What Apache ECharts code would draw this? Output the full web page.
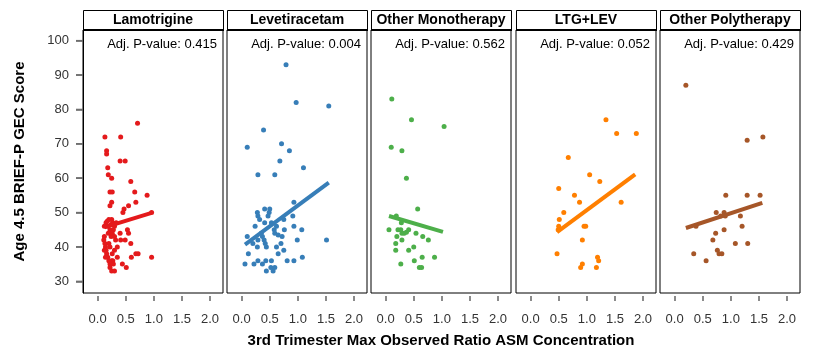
<!DOCTYPE html>
<html>
<head>
<meta charset="utf-8">
<script src="https://cdn.jsdelivr.net/npm/echarts@6/dist/echarts.min.js"></script>
<style>html,body{margin:0;padding:0;background:#fff;}#c{width:816px;height:360px;}</style>
</head>
<body>
<div id="c"></div>
<script>
const panelNames = ['Lamotrigine', 'Levetiracetam', 'Other Monotherapy', 'LTG+LEV', 'Other Polytherapy'];
const pValues = ['0.415', '0.004', '0.562', '0.052', '0.429'];
const xTicks = [0, 0.5, 1.0, 1.5, 2.0];
const yTicks = [30, 40, 50, 60, 70, 80, 90, 100];

const ltgPoints = [[0.71,76],[0.13,72],[0.41,72],[0.16,68],[0.16,67],[0.40,65],[0.49,65],[0.18,63],[0.19,61],[0.25,60],[0.59,59],[0.22,56],[0.26,56],[0.66,56],[0.88,55],[0.25,53],[0.22,52],[0.68,53],[0.55,52],[0.47,51],[0.45,50],[0.96,50],
[0.15,47],[0.20,48],[0.25,48],[0.27,47],[0.30,46],[0.18,46],[0.22,45],[0.12,46],[0.28,45],[0.33,47],[0.24,46.5],[0.17,47.5],
[0.53,45],[0.55,44],[0.40,44],[0.12,43],[0.11,42],[0.13,41],[0.24,43],[0.32,42],[0.41,42],[0.49,42],[0.59,41],[0.20,41],[0.22,40],[0.14,40],[0.12,39],[0.16,38],[0.26,38],[0.18,37],[0.35,37],[0.60,37],[0.68,38],[0.72,38],[0.96,37],[0.25,36],[0.22,35],[0.44,35],[0.51,34],[0.22,34],[0.25,33],[0.30,33],[0.27,36],[0.15,39],[0.30,39],[0.35,40],[0.19,44],[0.26,44],[0.30,43],[0.20,36],[0.28,35],[0.14,37]];
const levPoints = [[0.79,93],[0.97,82],[1.55,81],[0.39,74],[0.10,69],[0.71,70],[0.85,68],[0.68,65],[1.10,63],[0.29,61],[0.59,61],[0.93,53],
[0.41,51],[0.50,51],[0.28,50],[0.29,49],[0.32,48],[0.49,50],[0.47,49],[0.91,49],[0.24,46],[0.41,47],[0.53,47],[0.62,46],[0.75,48],[0.93,46],[1.07,45],[0.76,45],[0.59,44],[0.65,43.5],[0.58,45],
[0.10,43],[0.37,43],[0.29,42],[0.40,42],[0.42,41],[0.44,40],[0.72,43],[0.70,41],[0.62,40],[0.99,42],[1.51,42],[0.12,38],[0.28,40],[0.65,38],[0.75,39],[1.08,37],[0.06,35],[0.22,35],[0.29,36],[0.37,35],[0.43,36],[0.44,33],[0.53,36],[0.52,34],[0.56,33],[0.59,34],[0.81,36],[0.93,36],[0.35,44],[0.20,41]];
const monoPoints = [[0.11,83],[0.46,77],[1.04,75],[0.10,69],[0.29,68],[0.37,60],[0.57,51],[0.19,49],[0.06,45],[0.22,45],[0.27,45],[0.29,44],[0.33,44],[0.37,44.3],[0.41,45],[0.28,47],[0.54,44],[0.66,43],[0.76,42],[0.20,43],[0.29,42],[0.18,41],[0.18,39],[0.41,39],[0.50,40],[0.27,35],[0.51,36],[0.65,37],[0.87,37],[0.60,34],[0.64,34]];
const ltglevPoints = [[1.34,77],[1.53,73],[1.88,73],[0.67,66],[1.05,61],[1.23,59],[0.50,57],[0.78,55],[0.87,53],[1.61,53],[0.59,50],[0.51,48],[0.50,46],[0.49,45],[0.95,46],[0.98,46],[0.92,42],[0.47,38],[1.19,37],[1.21,36],[0.92,35],[0.89,34],[1.17,34]];
const polyPoints = [[0.20,87],[1.29,71],[1.57,72],[0.91,55],[1.29,55],[1.52,55],[0.74,50],[0.88,50],[0.90,49],[0.82,49],[1.17,49],[0.38,46],[1.20,46],[0.88,45],[0.73,44],[0.68,42],[1.08,41],[1.30,41],[0.34,38],[0.76,39],[0.79,38],[0.84,38],[0.56,36]];

const ltgFit = [[0.12,45.7],[0.96,49.9]];
const levFit = [[0.06,40.7],[1.55,58.7]];
const monoFit = [[0.06,49.0],[1.02,44.4]];
const ltglevFit = [[0.47,44.3],[1.86,61.1]];
const polyFit = [[0.20,45.5],[1.56,52.8]];

const pointSets = [ltgPoints, levPoints, monoPoints, ltglevPoints, polyPoints];
const fitSets = [ltgFit, levFit, monoFit, ltglevFit, polyFit];
const colors = ['#e41a1c', '#377eb8', '#4daf4a', '#ff7f00', '#a65628'];

const FONT = '"Liberation Sans", Arial, sans-serif';
const gTop = 30, gH = 263, gW = 140;
const lefts = [0,1,2,3,4].map(i => Math.round(82.7 + i * 144.33));

const grids = [], xAxes = [], yAxes = [], series = [], graphics = [];
lefts.forEach((L, i) => {
  grids.push({left: L, top: gTop, width: gW, height: gH, show: true, borderColor: '#000', borderWidth: 1});
  xAxes.push({
    type: 'value', gridIndex: i, min: -0.26, max: 2.23, offset: 3,
    axisLine: {show: true, onZero: false, lineStyle: {color: 'rgba(0,0,0,0)'}},
    splitLine: {show: true, lineStyle: {color: 'rgba(0,0,0,0)'}},
    axisTick: {show: true, length: 5, customValues: xTicks, lineStyle: {color: '#666', width: 1.5}},
    axisLabel: {customValues: xTicks, formatter: v => v.toFixed(1), fontSize: 13, color: '#333', fontFamily: FONT, margin: 17}
  });
  yAxes.push({
    type: 'value', gridIndex: i, min: 26.6, max: 103.1, show: i === 0,
    axisLine: {show: true, onZero: false, lineStyle: {color: '#000', width: 1}},
    splitLine: {show: true, lineStyle: {color: 'rgba(0,0,0,0)'}},
    axisTick: {show: true, length: 7, customValues: yTicks, lineStyle: {color: '#666', width: 1.5}},
    axisLabel: {customValues: yTicks, fontSize: 13, color: '#333', fontFamily: FONT, margin: 14}
  });
  series.push({type: 'scatter', xAxisIndex: i, yAxisIndex: i, data: pointSets[i], symbolSize: 5, itemStyle: {color: colors[i], opacity: 1}, z: 2, silent: true});
  series.push({type: 'line', xAxisIndex: i, yAxisIndex: i, data: fitSets[i], symbol: 'none', lineStyle: {color: colors[i], width: 4}, z: 3, silent: true});
  graphics.push({type: 'rect', shape: {x: L + 0.5, y: 10.5, width: gW, height: gTop - 10}, style: {fill: '#fff', stroke: '#000', lineWidth: 1}, z: 10});
  graphics.push({type: 'rect', shape: {x: L, y: gTop - 1, width: gW + 1, height: 2}, style: {fill: '#000'}, z: 10});
  graphics.push({type: 'text', x: L + gW / 2, y: 20.5, style: {text: panelNames[i], font: 'bold 14px ' + FONT, fill: '#000', textAlign: 'center', textVerticalAlign: 'middle'}, z: 11});
  graphics.push({type: 'text', x: L + gW - 6, y: 44.5, style: {text: 'Adj. P-value: ' + pValues[i], font: '13px ' + FONT, fill: '#000', textAlign: 'right', textVerticalAlign: 'middle'}, z: 11});
});

// narrow tick strip to the left of the first panel, sharing its y scale
grids.push({left: lefts[0] - 7, top: gTop, width: 7, height: gH, show: false});
xAxes.push({type: 'value', gridIndex: 5, min: 0, max: 1, show: false});
yAxes.push({type: 'value', gridIndex: 5, min: 26.6, max: 103.1, show: false});
series.push({type: 'scatter', xAxisIndex: 5, yAxisIndex: 5, data: yTicks.map(v => [0.5, v]), symbol: 'rect', symbolSize: [7, 1.5], itemStyle: {color: '#666'}, silent: true, clip: false});

graphics.push({type: 'text', x: 20, y: 161.5, rotation: Math.PI / 2, style: {text: 'Age 4.5 BRIEF-P GEC Score', font: 'bold 15px ' + FONT, fill: '#000', textAlign: 'center', textVerticalAlign: 'middle'}});
graphics.push({type: 'text', x: 441, y: 341, style: {text: '3rd Trimester Max Observed Ratio ASM Concentration', font: 'bold 15px ' + FONT, fill: '#000', textAlign: 'center', textVerticalAlign: 'middle'}});

const chart = echarts.init(document.getElementById('c'), null, {renderer: 'canvas'});
chart.setOption({animation: false, backgroundColor: '#fff', grid: grids, xAxis: xAxes, yAxis: yAxes, series: series, graphic: graphics});
</script>
</body>
</html>
